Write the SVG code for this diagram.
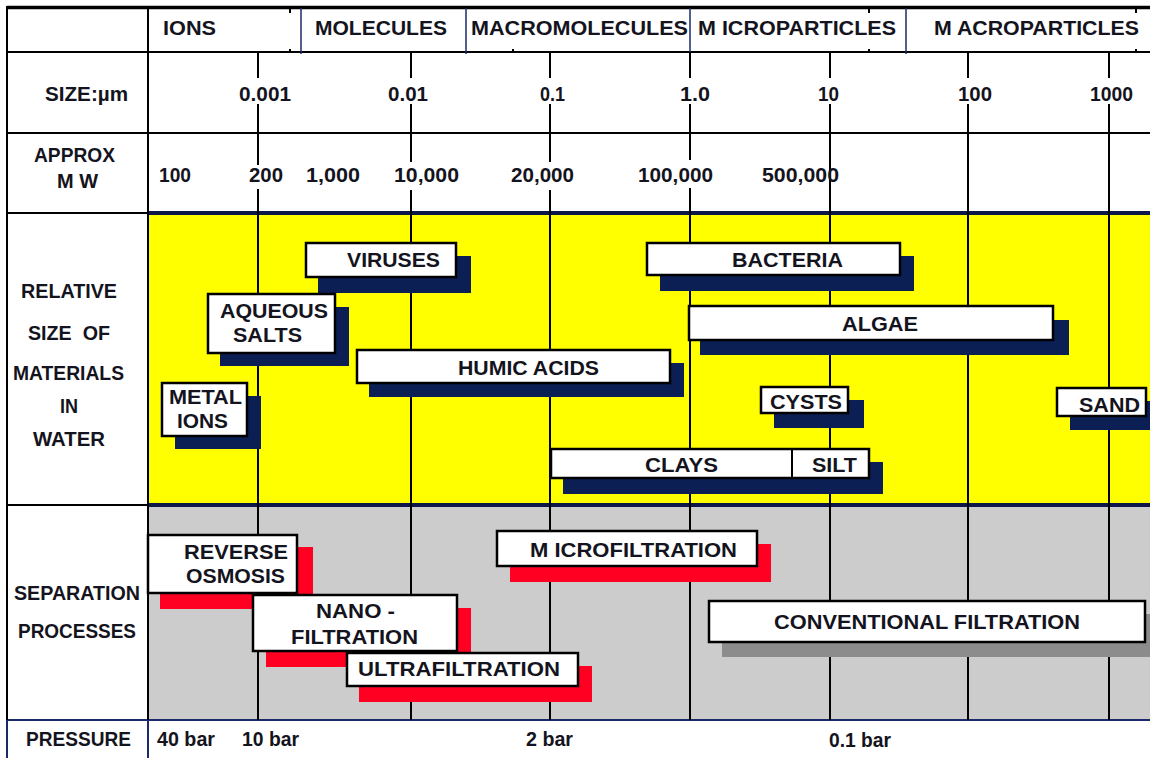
<svg xmlns="http://www.w3.org/2000/svg" width="1150" height="758" viewBox="0 0 1150 758">
<style>
text{font-family:"Liberation Sans",Arial,sans-serif;font-weight:bold;font-size:20px;fill:#141420}
.c{text-anchor:middle}
.g{stroke:#000;stroke-width:2;fill:none}
.n{stroke:#1a2a6a;fill:none}
.box{fill:#fff;stroke:#000;stroke-width:2.5}
.sh{fill:#0b1f55}
.rd{fill:#ff0022}
.gy{fill:#8c8c8c}
</style>
<rect x="0" y="0" width="1150" height="758" fill="#fff"/>
<rect x="148" y="215" width="1002" height="288" fill="#ffff00"/>
<rect x="148" y="507" width="1002" height="213" fill="#cccccc"/>
<g id="grid">
<line class="g" x1="7" y1="7.5" x2="1150" y2="7.5" style="stroke-width:3.5"/>
<line class="g" x1="7" y1="52" x2="1150" y2="52"/>
<line class="g" x1="7" y1="133" x2="1150" y2="133"/>
<line class="g" x1="7" y1="213" x2="148" y2="213"/>
<line class="n" x1="148" y1="213" x2="1150" y2="213" style="stroke-width:4;stroke:#0d1848"/>
<line class="g" x1="7" y1="505" x2="148" y2="505"/>
<line class="n" x1="148" y1="505" x2="1150" y2="505" style="stroke-width:4;stroke:#0d1848"/>
<line class="n" x1="7" y1="720" x2="1150" y2="720" style="stroke-width:2"/>
<line class="g" x1="7" y1="6" x2="7" y2="720"/>
<line class="g" x1="148" y1="6" x2="148" y2="720"/>
<line class="n" x1="7" y1="720" x2="7" y2="758" style="stroke-width:2"/>
<line class="n" x1="148" y1="720" x2="148" y2="758" style="stroke-width:2"/>
<line class="n" x1="301" y1="8" x2="301" y2="54" style="stroke-width:1.5"/>
<line class="n" x1="466" y1="8" x2="466" y2="54" style="stroke-width:1.5"/>
<line class="n" x1="690" y1="8" x2="690" y2="54" style="stroke-width:1.5"/>
<line class="n" x1="906" y1="8" x2="906" y2="54" style="stroke-width:1.5"/>
<path class="g" d="M290 9v4M290 49v3M513 49v3M869 9v4M869 49v3M1136 9v4M1136 49v3"/>
<path class="g" d="M258 52V78M258 104V165M258 189V720M411 52V78M411 104V162M411 190V720M550 52V78M550 104V162M550 190V720M690 52V78M690 104V160M690 188V720M830 52V78M830 104V720M968 52V78M968 104V720M1109 52V78M1109 104V720"/>
</g>
<g id="header">
<text x="163" y="35" textLength="53" lengthAdjust="spacingAndGlyphs">IONS</text>
<text x="315" y="35" textLength="132" lengthAdjust="spacingAndGlyphs">MOLECULES</text>
<text x="471" y="35" textLength="217" lengthAdjust="spacingAndGlyphs">MACROMOLECULES</text>
<text x="698" y="35" textLength="198" lengthAdjust="spacingAndGlyphs">M ICROPARTICLES</text>
<text x="934" y="35" textLength="205" lengthAdjust="spacingAndGlyphs">M ACROPARTICLES</text>
</g>
<g id="size-row">
<text x="45" y="101" textLength="83" lengthAdjust="spacingAndGlyphs">SIZE:µm</text>
<text x="239" y="101" textLength="52" lengthAdjust="spacingAndGlyphs">0.001</text>
<text x="388" y="101" textLength="40" lengthAdjust="spacingAndGlyphs">0.01</text>
<text x="540" y="101" textLength="25" lengthAdjust="spacingAndGlyphs">0.1</text>
<text x="680" y="101" textLength="30" lengthAdjust="spacingAndGlyphs">1.0</text>
<text x="818" y="101" textLength="21" lengthAdjust="spacingAndGlyphs">10</text>
<text x="958" y="101" textLength="34" lengthAdjust="spacingAndGlyphs">100</text>
<text x="1090" y="101" textLength="43" lengthAdjust="spacingAndGlyphs">1000</text>
</g>
<g id="mw-row">
<text x="34" y="162" textLength="81" lengthAdjust="spacingAndGlyphs">APPROX</text>
<text x="57" y="188" textLength="41" lengthAdjust="spacingAndGlyphs">M W</text>
<text x="159" y="182" textLength="32" lengthAdjust="spacingAndGlyphs">100</text>
<text x="249" y="182" textLength="34" lengthAdjust="spacingAndGlyphs">200</text>
<text x="306" y="182" textLength="54" lengthAdjust="spacingAndGlyphs">1,000</text>
<text x="394" y="182" textLength="65" lengthAdjust="spacingAndGlyphs">10,000</text>
<text x="511" y="182" textLength="63" lengthAdjust="spacingAndGlyphs">20,000</text>
<text x="638" y="182" textLength="75" lengthAdjust="spacingAndGlyphs">100,000</text>
<text x="762" y="182" textLength="77" lengthAdjust="spacingAndGlyphs">500,000</text>
</g>
<g id="materials-label">
<text x="21" y="298" textLength="96" lengthAdjust="spacingAndGlyphs">RELATIVE</text>
<text x="28" y="340" textLength="82" lengthAdjust="spacingAndGlyphs" xml:space="preserve">SIZE  OF</text>
<text x="13" y="380" textLength="111" lengthAdjust="spacingAndGlyphs">MATERIALS</text>
<text x="60" y="413" textLength="18" lengthAdjust="spacingAndGlyphs">IN</text>
<text x="33" y="446" textLength="72" lengthAdjust="spacingAndGlyphs">WATER</text>
</g>
<g id="viruses">
<rect class="sh" x="318" y="256" width="153" height="37"/>
<rect class="box" x="306" y="243" width="150" height="34"/>
<text x="347" y="267" textLength="93" lengthAdjust="spacingAndGlyphs">VIRUSES</text>
</g>
<g id="aqueous-salts">
<rect class="sh" x="220" y="307" width="129" height="59"/>
<rect class="box" x="208" y="294" width="127" height="59"/>
<text x="220" y="318" textLength="108" lengthAdjust="spacingAndGlyphs">AQUEOUS</text>
<text x="233" y="342" textLength="69" lengthAdjust="spacingAndGlyphs">SALTS</text>
</g>
<g id="metal-ions">
<rect class="sh" x="175" y="396" width="86" height="53"/>
<rect class="box" x="162" y="383" width="85" height="53"/>
<text x="169" y="404" textLength="73" lengthAdjust="spacingAndGlyphs">METAL</text>
<text x="177" y="428" textLength="51" lengthAdjust="spacingAndGlyphs">IONS</text>
</g>
<g id="humic-acids">
<rect class="sh" x="369" y="363" width="315" height="34"/>
<rect class="box" x="357" y="350" width="313" height="33"/>
<text x="458" y="375" textLength="141" lengthAdjust="spacingAndGlyphs">HUMIC ACIDS</text>
</g>
<g id="bacteria">
<rect class="sh" x="660" y="256" width="254" height="35"/>
<rect class="box" x="647" y="243" width="253" height="32"/>
<text x="732" y="267" textLength="111" lengthAdjust="spacingAndGlyphs">BACTERIA</text>
</g>
<g id="algae">
<rect class="sh" x="700" y="320" width="369" height="35"/>
<rect class="box" x="689" y="306" width="364" height="34"/>
<text x="842" y="331" textLength="76" lengthAdjust="spacingAndGlyphs">ALGAE</text>
</g>
<g id="cysts">
<rect class="sh" x="774" y="400" width="90" height="28"/>
<rect class="box" x="761" y="387" width="87" height="26"/>
<text x="770" y="409" textLength="72" lengthAdjust="spacingAndGlyphs">CYSTS</text>
</g>
<g id="sand">
<rect class="sh" x="1070" y="401" width="90" height="29"/>
<rect class="box" x="1057" y="388" width="89" height="28"/>
<text x="1079" y="412" textLength="61" lengthAdjust="spacingAndGlyphs">SAND</text>
</g>
<g id="clays-silt">
<rect class="sh" x="563" y="462" width="320" height="32"/>
<rect class="box" x="551" y="449" width="318" height="29"/>
<line x1="792" y1="449" x2="792" y2="478" stroke="#000" stroke-width="2"/>
<text x="645" y="472" textLength="73" lengthAdjust="spacingAndGlyphs">CLAYS</text>
<text x="812" y="472" textLength="45" lengthAdjust="spacingAndGlyphs">SILT</text>
</g>
<g id="separation-label">
<text x="14" y="600" textLength="126" lengthAdjust="spacingAndGlyphs">SEPARATION</text>
<text x="18" y="638" textLength="118" lengthAdjust="spacingAndGlyphs">PROCESSES</text>
</g>
<g id="microfiltration">
<rect class="rd" x="510" y="544" width="261" height="38"/>
<rect class="box" x="497" y="531" width="260" height="35"/>
<text x="530" y="557" textLength="207" lengthAdjust="spacingAndGlyphs">M ICROFILTRATION</text>
</g>
<g id="conventional-filtration">
<rect class="gy" x="722" y="614" width="438" height="43"/>
<rect class="box" x="709" y="601" width="436" height="41"/>
<text x="774" y="629" textLength="306" lengthAdjust="spacingAndGlyphs">CONVENTIONAL FILTRATION</text>
</g>
<g id="reverse-osmosis">
<rect class="rd" x="160" y="547" width="153" height="62"/>
<rect class="box" x="148" y="535" width="149" height="58"/>
<text x="184" y="559" textLength="104" lengthAdjust="spacingAndGlyphs">REVERSE</text>
<text x="186" y="583" textLength="99" lengthAdjust="spacingAndGlyphs">OSMOSIS</text>
</g>
<g id="nanofiltration">
<rect class="rd" x="266" y="608" width="205" height="59"/>
<rect class="box" x="253" y="595" width="204" height="56"/>
<text x="316" y="618" textLength="79" lengthAdjust="spacingAndGlyphs">NANO -</text>
<text x="291" y="644" textLength="127" lengthAdjust="spacingAndGlyphs">FILTRATION</text>
</g>
<g id="ultrafiltration">
<rect class="rd" x="359" y="666" width="233" height="36"/>
<rect class="box" x="347" y="653" width="231" height="33"/>
<text x="358" y="676" textLength="202" lengthAdjust="spacingAndGlyphs">ULTRAFILTRATION</text>
</g>
<g id="pressure-row">
<text x="26" y="746" textLength="105" lengthAdjust="spacingAndGlyphs">PRESSURE</text>
<text x="157" y="746" textLength="58" lengthAdjust="spacingAndGlyphs">40 bar</text>
<text x="242" y="746" textLength="57" lengthAdjust="spacingAndGlyphs">10 bar</text>
<text x="526" y="746" textLength="47" lengthAdjust="spacingAndGlyphs">2 bar</text>
<text x="829" y="747" textLength="62" lengthAdjust="spacingAndGlyphs">0.1 bar</text>
</g>
</svg>
